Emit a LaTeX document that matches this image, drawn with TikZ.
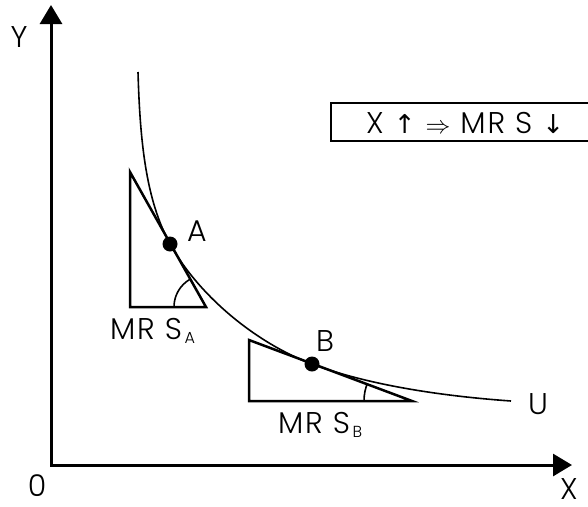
\documentclass[tikz,border=0pt]{standalone}
\usepackage{fontspec}
\setmainfont{Poppins}[UprightFont=* Light,LetterSpace=6]
\newfontfamily\symf{DejaVu Sans}
\usetikzlibrary{arrows.meta}
\begin{document}
\begin{tikzpicture}[x=1pt,y=-1pt,
  axis/.style={line width=3pt,{Triangle[length=19pt,width=22pt]}-{Triangle[length=19pt,width=22pt]}},
  tri/.style={line width=2.5pt,line join=miter},
  curve/.style={line width=1.6pt},
  anglearc/.style={line width=1.6pt},
  dot/.style={circle,fill=black,inner sep=0pt,minimum size=15pt},
  lbl/.style={font=\fontsize{30}{32}\selectfont,inner sep=0pt}]
\useasboundingbox (0,0) rectangle (588,506);
% axes
\coordinate (O) at (51,465);
\coordinate (Ytip) at (51,5);
\coordinate (Xtip) at (572,465);
\draw[axis] (Ytip) -- (O) -- (Xtip);
\node[lbl] (ylab) at (19,37) {Y};
\node[lbl] (olab) at (37,486) {0};
\node[lbl] (xlab) at (569,489) {X};
% triangles
\coordinate (TA1) at (130,172);
\coordinate (TA2) at (130,307);
\coordinate (TA3) at (206,307);
\draw[tri] (TA1) -- (TA2) -- (TA3) -- cycle;
\begin{scope}
  \clip (TA1) -- (TA2) -- (TA3) -- cycle;
  \draw[anglearc] (TA3) circle[radius=32pt];
\end{scope}
\coordinate (TB1) at (249,340);
\coordinate (TB2) at (249,401);
\coordinate (TB3) at (412,401);
\draw[tri] (TB1) -- (TB2) -- (TB3) -- cycle;
\begin{scope}
  \clip (TB1) -- (TB2) -- (TB3) -- cycle;
  \draw[anglearc] (TB3) circle[radius=48pt];
\end{scope}
% curve
\coordinate (S) at (138,72);
\coordinate (E) at (511,401);
\node[dot] (A) at (170,244) {};
\node[dot] (B) at (312,364) {};
\draw[curve] (S) .. controls (140,142) and (146,200) .. (A.center)
  .. controls (199,296) and (256,343) .. (B.center)
  .. controls (368,385) and (441,396) .. (E);
\node[lbl] (alab) at (197,231) {A};
\node[lbl] (blab) at (325,341) {B};
\node[lbl] (ulab) at (538,404) {U};
\node[lbl,anchor=base west] (mrsa) at (110,339) {MR S\raisebox{-4pt}{\fontsize{16}{17}\selectfont\,A}};
\node[lbl,anchor=base west] (mrsb) at (278,433) {MR S\raisebox{-4pt}{\fontsize{16}{17}\selectfont\,B}};
% box
\begin{scope}
  \clip (0,0) rectangle (588,506);
  \draw[line width=2.5pt] (331,103) rectangle (640,141);
\end{scope}
\node[lbl,anchor=base west] (boxtext) at (366,133) {X {\symf\fontsize{26}{28}\selectfont ↑} {\fontsize{34}{34}\selectfont$\Rightarrow$}\,\,MR S {\symf\fontsize{26}{28}\selectfont ↓}};
\end{tikzpicture}
\end{document}
